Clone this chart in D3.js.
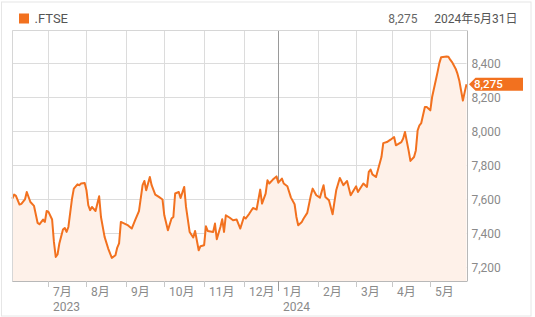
<!DOCTYPE html>
<html>
<head>
<meta charset="utf-8">
<script src="https://cdn.jsdelivr.net/npm/d3@7"></script>
<style>
  body { margin: 0; background: #fff; font-family: Roboto, "Noto Sans CJK JP", sans-serif; }
  .grid line { stroke: #dcdcdc; stroke-width: 1; }
  .tick-label { fill: #8a8a8a; font-size: 12px; }
</style>
</head>
<body>
<div id="chart"></div>
<script>
var symbol = '.FTSE'
var asOf = '2024年5月31日'

// UK market holidays inside the range (no trading)
var holidays = ['2023-08-28', '2023-12-25', '2023-12-26', '2024-01-01',
  '2024-03-29', '2024-04-01', '2024-05-06', '2024-05-27']

var closeDates = [
  '2023-06-05','2023-06-06','2023-06-07','2023-06-09','2023-06-12','2023-06-14','2023-06-15','2023-06-19',
  '2023-06-21','2023-06-23','2023-06-26','2023-06-28','2023-06-29','2023-06-30',
  '2023-07-03','2023-07-05','2023-07-06','2023-07-07','2023-07-10','2023-07-11','2023-07-13','2023-07-14',
  '2023-07-17','2023-07-18','2023-07-20','2023-07-21','2023-07-25','2023-07-26','2023-07-27','2023-07-31',
  '2023-08-01','2023-08-02','2023-08-03','2023-08-04','2023-08-08','2023-08-10','2023-08-11','2023-08-15',
  '2023-08-17','2023-08-21','2023-08-23','2023-08-24','2023-08-25','2023-08-29','2023-08-31',
  '2023-09-04','2023-09-06','2023-09-08','2023-09-12','2023-09-14','2023-09-15','2023-09-18','2023-09-20',
  '2023-09-21','2023-09-25','2023-09-27','2023-09-29',
  '2023-10-02','2023-10-04','2023-10-06','2023-10-09','2023-10-10','2023-10-12','2023-10-13','2023-10-17',
  '2023-10-18','2023-10-20','2023-10-24','2023-10-25','2023-10-27','2023-10-30',
  '2023-11-01','2023-11-02','2023-11-03','2023-11-08','2023-11-09','2023-11-10','2023-11-14','2023-11-15',
  '2023-11-16','2023-11-17','2023-11-21','2023-11-23','2023-11-27','2023-11-29',
  '2023-12-01','2023-12-04','2023-12-06','2023-12-08','2023-12-12','2023-12-14','2023-12-15','2023-12-19',
  '2023-12-20','2023-12-21','2023-12-27','2023-12-29',
  '2024-01-02','2024-01-04','2024-01-05','2024-01-09','2024-01-11','2024-01-15','2024-01-16','2024-01-17',
  '2024-01-19','2024-01-22','2024-01-24','2024-01-26','2024-01-29','2024-01-31',
  '2024-02-02','2024-02-06','2024-02-07','2024-02-09','2024-02-13','2024-02-14','2024-02-15','2024-02-19',
  '2024-02-21','2024-02-23','2024-02-27',
  '2024-03-01','2024-03-04','2024-03-07','2024-03-11','2024-03-12','2024-03-13','2024-03-14','2024-03-18',
  '2024-03-21','2024-03-22','2024-03-26','2024-03-28',
  '2024-04-03','2024-04-04','2024-04-09','2024-04-10','2024-04-11','2024-04-15','2024-04-16','2024-04-18',
  '2024-04-19','2024-04-22','2024-04-23','2024-04-24','2024-04-26','2024-04-29',
  '2024-05-01','2024-05-02','2024-05-07','2024-05-08','2024-05-09','2024-05-10','2024-05-15','2024-05-16',
  '2024-05-17','2024-05-20','2024-05-22','2024-05-23','2024-05-24','2024-05-28','2024-05-29','2024-05-30',
  '2024-05-31'
]

var closeValues = [
  7602,7626,7618,7567,7571,7597,7641,7582,
  7559,7459,7451,7479,7465,7529,
  7524,7479,7347,7259,7273,7338,7420,7429,
  7406,7435,7602,7661,7686,7681,7691,7694,
  7651,7563,7534,7553,7529,7616,7494,7377,
  7308,7253,7269,7314,7338,7465,7455,
  7444,7426,7479,7529,7681,7706,7651,7729,
  7681,7626,7612,7597,
  7504,7416,7485,7494,7632,7641,7606,7671,
  7553,7406,7373,7412,7298,7322,
  7328,7439,7412,7406,7455,7363,7435,7481,
  7406,7504,7491,7475,7479,7426,
  7494,7485,7514,7547,7538,7655,7573,7632,
  7710,7691,7714,7733,
  7696,7720,7691,7675,7608,7569,7494,7445,
  7465,7485,7518,7622,7661,7622,
  7608,7681,7612,7592,7510,7582,7651,7724,
  7681,7706,7622,
  7675,7641,7691,7671,7759,7773,7745,7729,
  7847,7929,7935,7949,
  7965,7916,7935,7956,7994,7886,7824,7847,
  7886,8004,8034,8047,8141,8141,
  8122,8200,8298,8347,8400,8435,8439,8438,
  8420,8406,8367,8338,8298,8239,8180,8229,
  8275
]

var yTicks = [7200, 7400, 7600, 7800, 8000, 8200, 8400]
var monthLabels = ['7月', '8月', '9月', '10月', '11月', '12月', '1月', '2月', '3月', '4月', '5月']
var yearLabels = {'7月': '2023', '1月': '2024'}

var width = 535
var height = 317
var plot = {left: 12.3, right: 466.5, top: 30.5, bottom: 281}
var orange = '#f2711f'

var parse = d3.timeParse('%Y-%m-%d')
var fmt = d3.timeFormat('%Y-%m-%d')

// trading-day calendar: weekdays minus holidays
var tradingDays = d3.timeDay.range(parse(closeDates[0]), d3.timeDay.offset(parse(closeDates[closeDates.length - 1]), 1))
  .filter(function(d) { return d.getDay() !== 0 && d.getDay() !== 6 && holidays.indexOf(fmt(d)) < 0 })
var dayIndex = {}
tradingDays.forEach(function(d, i) { dayIndex[fmt(d)] = i })

var data = closeDates.map(function(d, i) {
  return {i: dayIndex[d], v: closeValues[i]}
})

// first trading day of each month after the start
var monthTicks = []
tradingDays.forEach(function(d, i) {
  if (i > 0 && d.getMonth() !== tradingDays[i - 1].getMonth()) monthTicks.push(i)
})

var x = d3.scaleLinear().domain([0, tradingDays.length - 1]).range([plot.left, plot.right])
var y = d3.scaleLinear().domain([7117, 8592]).range([plot.bottom, plot.top])

var svg = d3.select('#chart').append('svg')
  .attr('width', width)
  .attr('height', height)

// outer frame
svg.append('rect')
  .attr('x', 1.5).attr('y', 2)
  .attr('width', 529.5).attr('height', 314)
  .attr('fill', 'none')
  .attr('stroke', '#e6e6e6')

// header
svg.append('rect')
  .attr('x', 19).attr('y', 13.5)
  .attr('width', 10).attr('height', 10)
  .attr('fill', orange)
svg.append('text')
  .attr('x', 34.5).attr('y', 23.3)
  .attr('fill', '#555')
  .style('font-size', '13px')
  .text(symbol)
svg.append('text')
  .attr('x', 417.5).attr('y', 23.3)
  .attr('text-anchor', 'end')
  .attr('fill', '#666')
  .style('font-size', '12px')
  .text(d3.format(',')(closeValues[closeValues.length - 1]))
svg.append('text')
  .attr('x', 517.5).attr('y', 23.3)
  .attr('text-anchor', 'end')
  .attr('fill', '#555')
  .style('font-size', '12px')
  .text(asOf)

// grid
var grid = svg.append('g').attr('class', 'grid')
grid.selectAll('.h')
  .data(yTicks)
  .enter().append('line')
  .attr('x1', plot.left).attr('x2', plot.right)
  .attr('y1', function(d) { return Math.round(y(d)) + 0.5 })
  .attr('y2', function(d) { return Math.round(y(d)) + 0.5 })
grid.selectAll('.v')
  .data(monthTicks)
  .enter().append('line')
  .attr('x1', function(d) { return Math.round(x(d)) + 0.5 })
  .attr('x2', function(d) { return Math.round(x(d)) + 0.5 })
  .attr('y1', plot.top).attr('y2', plot.bottom)
  .style('stroke', function(d) { return tradingDays[d].getMonth() === 0 ? '#9a9a9a' : null })

// area + line
var area = d3.area()
  .x(function(d) { return x(d.i) })
  .y0(plot.bottom)
  .y1(function(d) { return y(d.v) })
var line = d3.line()
  .x(function(d) { return x(d.i) })
  .y(function(d) { return y(d.v) })

svg.append('path')
  .datum(data)
  .attr('fill', '#fef1e9')
  .attr('d', area)
svg.append('path')
  .datum(data)
  .attr('fill', 'none')
  .attr('stroke', orange)
  .attr('stroke-width', 2)
  .attr('stroke-linejoin', 'round')
  .attr('d', line)

// plot frame
svg.append('line')
  .attr('x1', Math.round(plot.left) + 0.5).attr('x2', Math.round(plot.left) + 0.5)
  .attr('y1', plot.top).attr('y2', plot.bottom)
  .attr('stroke', '#d6d6d6')
svg.append('line')
  .attr('x1', plot.left).attr('x2', plot.right + 0.5)
  .attr('y1', plot.top).attr('y2', plot.top)
  .attr('stroke', '#d6d6d6')
svg.append('line')
  .attr('x1', Math.round(plot.right) + 0.5).attr('x2', Math.round(plot.right) + 0.5)
  .attr('y1', plot.top).attr('y2', plot.bottom)
  .attr('stroke', '#b8b8b8')
svg.append('line')
  .attr('x1', plot.left).attr('x2', plot.right + 1)
  .attr('y1', plot.bottom + 0.5).attr('y2', plot.bottom + 0.5)
  .attr('stroke', '#b8b8b8')

// x axis ticks and labels
var xt = svg.append('g').selectAll('g')
  .data(monthTicks)
  .enter().append('g')
  .attr('transform', function(d) { return 'translate(' + (Math.round(x(d)) + 0.5) + ',0)' })
xt.append('line')
  .attr('y1', plot.bottom).attr('y2', function(d) { return plot.bottom + (tradingDays[d].getMonth() === 0 ? 10 : 6) })
  .attr('stroke', function(d) { return tradingDays[d].getMonth() === 0 ? '#9a9a9a' : '#c8c8c8' })
xt.append('text')
  .attr('class', 'tick-label')
  .attr('x', 4.5).attr('y', 296)
  .text(function(d, i) { return monthLabels[i] })
xt.append('text')
  .attr('class', 'tick-label')
  .attr('x', 4.5).attr('y', 310.5)
  .text(function(d, i) { return yearLabels[monthLabels[i]] || '' })

// y axis labels (right)
svg.append('g').selectAll('text')
  .data(yTicks)
  .enter().append('text')
  .attr('class', 'tick-label')
  .attr('x', 471.5)
  .attr('y', function(d) { return y(d) + 4.6 })
  .style('font-size', '12px')
  .text(d3.format(','))

// last value tag
var last = data[data.length - 1]
var ty = y(last.v)
svg.append('path')
  .attr('d', 'M469,' + ty + 'L475.5,' + (ty - 6.5) + 'H523V' + (ty + 6.5) + 'H475.5Z')
  .attr('fill', orange)
svg.append('text')
  .attr('x', 474).attr('y', ty + 3.8)
  .attr('fill', '#fff')
  .style('font-size', '11.5px')
  .style('font-weight', 500)
  .text(d3.format(',')(last.v))
</script>
</body>
</html>
